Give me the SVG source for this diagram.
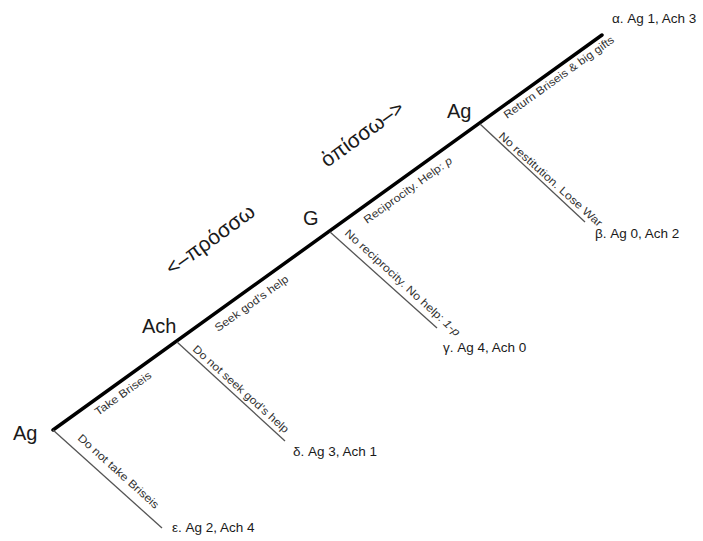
<svg xmlns="http://www.w3.org/2000/svg" width="703" height="541" viewBox="0 0 703 541">
<style>
text{font-family:"Liberation Sans",Arial,sans-serif;fill:#1a1a1a}
.node{font-size:20px}
.out{font-size:13.5px}
.lbl{font-size:11px;fill:#333}
.dir{font-size:21px}
.main{stroke:#000;stroke-width:3.5;fill:none;stroke-linecap:round}
.br{stroke:#555;stroke-width:1.3;fill:none}
</style>
<rect width="703" height="541" fill="#fff"/>
<g id="connectors">
<line class="main" x1="53" y1="430" x2="602" y2="35"/>
<line class="br" x1="53" y1="430" x2="162" y2="528"/>
<line class="br" x1="177" y1="342" x2="285" y2="441"/>
<line class="br" x1="330" y1="232" x2="437" y2="328"/>
<line class="br" x1="480" y1="124" x2="585" y2="222"/>
<text class="lbl" transform="translate(98,416) rotate(-35.7)" textLength="67" lengthAdjust="spacingAndGlyphs">Take Briseis</text>
<text class="lbl" transform="translate(218,332) rotate(-35.7)" textLength="88" lengthAdjust="spacingAndGlyphs">Seek god’s help</text>
<text class="lbl" transform="translate(367,224) rotate(-35.7)" textLength="106" lengthAdjust="spacingAndGlyphs">Reciprocity. Help: <tspan font-style="italic">p</tspan></text>
<text class="lbl" transform="translate(507,119) rotate(-35.7)" textLength="133" lengthAdjust="spacingAndGlyphs">Return Briseis &amp; big gifts</text>
<text class="lbl" transform="translate(77,439) rotate(42)" textLength="105" lengthAdjust="spacingAndGlyphs">Do not take Briseis</text>
<text class="lbl" transform="translate(192,350) rotate(42)" textLength="125" lengthAdjust="spacingAndGlyphs">Do not seek god’s help</text>
<text class="lbl" transform="translate(344,234) rotate(42.5)" textLength="152" lengthAdjust="spacingAndGlyphs">No reciprocity. No help: <tspan font-style="italic">1-p</tspan></text>
<text class="lbl" transform="translate(498,137) rotate(42)" textLength="135" lengthAdjust="spacingAndGlyphs">No restitution. Lose War</text>
</g>
<g id="n-ag1"><text class="node" x="13" y="440">Ag</text></g>
<g id="n-ach"><text class="node" x="142" y="333">Ach</text></g>
<g id="n-g"><text class="node" x="303" y="225">G</text></g>
<g id="n-ag2"><text class="node" x="447" y="118">Ag</text></g>
<g id="o-alpha"><text class="out" x="612" y="23">α. Ag 1, Ach 3</text></g>
<g id="o-beta"><text class="out" x="595" y="238">β. Ag 0, Ach 2</text></g>
<g id="o-gamma"><text class="out" x="443" y="352">γ. Ag 4, Ach 0</text></g>
<g id="o-delta"><text class="out" x="293" y="456">δ. Ag 3, Ach 1</text></g>
<g id="o-eps"><text class="out" x="172" y="532">ε. Ag 2, Ach 4</text></g>
<g id="dir-opisso"><text class="dir" transform="translate(327,168) rotate(-36)">ὀπίσσω–&gt;</text></g>
<g id="dir-prosso"><text class="dir" transform="translate(172,276) rotate(-36)">&lt;–πρόσσω</text></g>
</svg>
